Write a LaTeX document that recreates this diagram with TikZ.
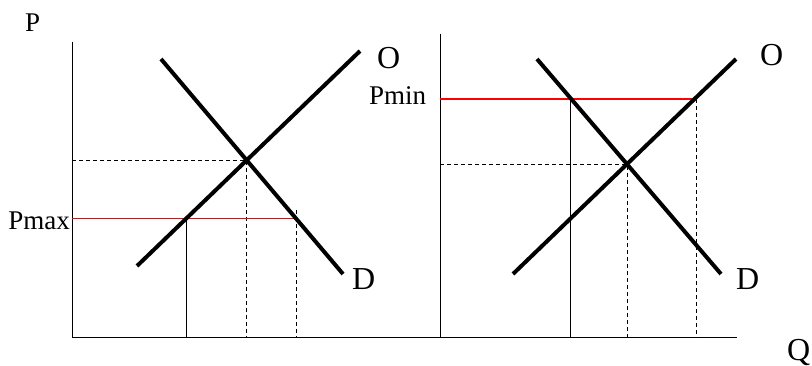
\documentclass[tikz,border=0pt]{standalone}
\usepackage{fontspec}
\setmainfont{Liberation Serif}
\begin{document}
\begin{tikzpicture}[x=1pt,y=-1pt,
  curve/.style={line width=4pt},
  axis/.style={line width=1pt},
  guide/.style={line width=0.9pt,dash pattern=on 4pt off 3pt},
  limit/.style={draw=red,line width=1.2pt},
  big/.style={font=\fontsize{32}{32}\selectfont,inner sep=0pt},
  small/.style={font=\fontsize{27}{27}\selectfont,inner sep=0pt}]
  \useasboundingbox (0,0) rectangle (812,366);

  % Axes
  \coordinate (P1) at (72,42);
  \coordinate (O1) at (72,338);
  \coordinate (Qend) at (737,338);
  \coordinate (P2) at (440,34);
  \coordinate (O2) at (440,338);

  % Left panel: ceiling
  \coordinate (Sa) at (137,266);
  \coordinate (Sb) at (360,51);
  \coordinate (Da) at (161,59);
  \coordinate (Db) at (343,274);
  \coordinate (E1) at (intersection of Sa--Sb and Da--Db);
  \coordinate (CeilL) at (72,218.5);
  \coordinate (CeilS) at (186,218.5);
  \coordinate (CeilD) at (296,218.5);
  \coordinate (CeilTop) at (296,210);

  % Right panel: floor
  \coordinate (Sc) at (513,274);
  \coordinate (Sd) at (736,59);
  \coordinate (Dc) at (537,59);
  \coordinate (Dd) at (721,274);
  \coordinate (E2) at (intersection of Sc--Sd and Dc--Dd);
  \coordinate (FloorL) at (440,99);
  \coordinate (FloorD) at (570,99);
  \coordinate (FloorS) at (696,99);

  % Guides
  \draw[guide] (E1 -| O1) -- (E1) -- (E1 |- O1);
  \draw[guide] (CeilTop) -- (CeilTop |- O1);
  \draw[guide] (E2 -| O2) -- (E2) -- (E2 |- O2);
  \draw[guide] (FloorS) -- (FloorS |- O2);
  \draw[axis] (CeilS) -- (CeilS |- O1);
  \draw[axis] (FloorD) -- (FloorD |- O2);

  \draw[axis] (P1) -- (O1) -- (Qend);
  \draw[axis] (P2) -- (O2);

  % Price limits
  \draw[limit] (CeilL) -- (CeilD);
  \draw[limit] (FloorL) -- (FloorS);

  % Curves
  \draw[curve] (Sa) -- (Sb);
  \draw[curve] (Da) -- (Db);
  \draw[curve] (Sc) -- (Sd);
  \draw[curve] (Dc) -- (Dd);

  % Labels
  \node[small,anchor=base west] (pLbl) at (25,32) {P};
  \node[small,anchor=base east] (maxLbl) at (70,230) {Pmax};
  \node[small,anchor=base west] (minLbl) at (369,105) {Pmin};
  \node[big,anchor=base west] (o1Lbl) at (377,69) {O};
  \node[big,anchor=base west] (d1Lbl) at (352,290) {D};
  \node[big,anchor=base west] (o2Lbl) at (760,66) {O};
  \node[big,anchor=base west] (d2Lbl) at (736,290) {D};
  \node[big,anchor=base west] (qLbl) at (787,360) {Q};
\end{tikzpicture}
\end{document}
